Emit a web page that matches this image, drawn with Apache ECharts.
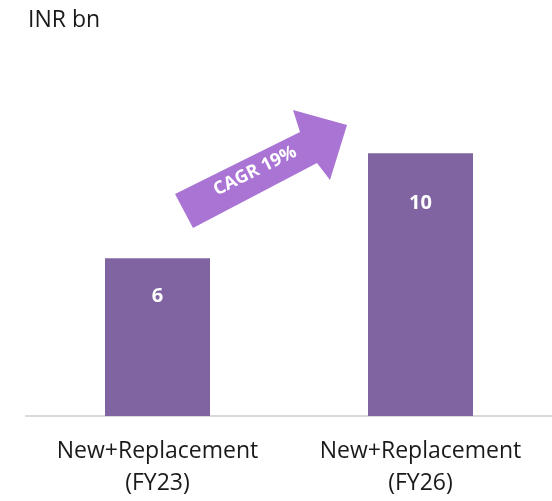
<!DOCTYPE html>
<html>
<head>
<meta charset="utf-8">
<script src="https://cdn.jsdelivr.net/npm/echarts@6/dist/echarts.min.js"></script>
<style>
  html, body { margin: 0; padding: 0; background: #fff; }
  #chart { width: 552px; height: 501px; }
</style>
</head>
<body>
<div id="chart"></div>
<script>
// 数据
const categories = ['New+Replacement\n(FY23)', 'New+Replacement\n(FY26)'];
const values = [6, 10];
const unitLabel = 'INR bn';
const cagrText = 'CAGR 19%';

// label offset from bar top (style only)
const labelGap = [28, 40];

let myChart = echarts.init(document.getElementById('chart'));

myChart.setOption({
  animation: false,
  textStyle: { fontFamily: 'Open Sans, Noto Sans, sans-serif' },
  title: {
    text: unitLabel,
    left: 23,
    top: 4,
    textStyle: { fontSize: 23, fontWeight: 'normal', color: '#1a1a1a' }
  },
  grid: { left: 26, right: 0, top: 48, bottom: 85 },
  xAxis: {
    type: 'category',
    data: categories,
    axisTick: { show: false },
    axisLine: { lineStyle: { color: '#D9D9D9', width: 2 } },
    axisLabel: {
      color: '#1a1a1a',
      fontSize: 23,
      lineHeight: 32,
      margin: 19,
      interval: 0
    }
  },
  yAxis: {
    type: 'value',
    min: 0,
    max: 14,
    show: false,
    splitLine: { show: false }
  },
  series: [
    {
      type: 'bar',
      barWidth: 105,
      itemStyle: { color: '#8064A2' },
      label: {
        show: true,
        position: 'insideTop',
        color: '#fff',
        fontWeight: 'bold',
        fontSize: 20
      },
      data: values.map((v, i) => ({ value: v, label: { distance: labelGap[i] } }))
    }
  ],
  graphic: [
    {
      type: 'polygon',
      shape: {
        points: [
          [175, 194], [300, 132], [293, 110], [347, 125],
          [330, 180], [317, 163], [193, 228]
        ]
      },
      style: { fill: '#A974D4' }
    },
    {
      type: 'text',
      x: 255,
      y: 171,
      rotation: 26.5 * Math.PI / 180,
      style: {
        text: cagrText,
        fill: '#fff',
        font: 'bold 18px "Open Sans", sans-serif',
        align: 'center',
        verticalAlign: 'middle'
      }
    }
  ]
});

window.addEventListener('resize', () => {
  myChart.resize();
});
</script>
</body>
</html>
